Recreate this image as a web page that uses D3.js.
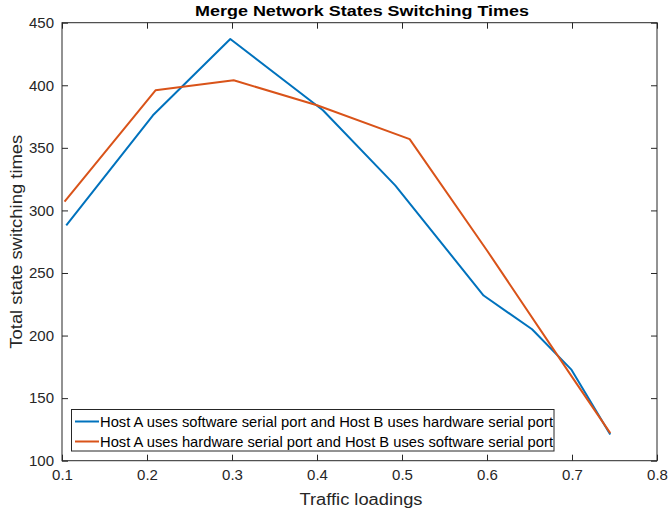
<!DOCTYPE html>
<html><head><meta charset="utf-8">
<script src="https://cdn.jsdelivr.net/npm/d3@7"></script>
<style>body{margin:0;background:#fff;} svg{display:block;font-family:"Liberation Sans",Arial,sans-serif;}</style>
</head><body>
<svg id="chart" width="670" height="514"></svg>
<script>
const xTicks = [0.1,0.2,0.3,0.4,0.5,0.6,0.7,0.8];
const yTicks = [100,150,200,250,300,350,400,450];
const blueX = [0.105,0.207,0.298,0.407,0.492,0.596,0.653,0.699,0.745];
const blueY = [288,376,437,380,320,232,205,173,121];
const orangeX = [0.103,0.21,0.302,0.4,0.509,0.6,0.7,0.745];
const orangeY = [307,396,404,384,357,268,167,122];
const seriesNames = ["Host A uses software serial port and Host B uses hardware serial port",
                     "Host A uses hardware serial port and Host B uses software serial port"];
const colors = ["#0072BD","#D95319"];

const L=62, R=657, T=22.7, B=460.7;
const svg = d3.select("#chart");
const x = d3.scaleLinear().domain([0.1,0.8]).range([L,R]);
const y = d3.scaleLinear().domain([100,450]).range([B,T]);
const axCol = "#262626";

svg.append("rect").attr("x",L).attr("y",T).attr("width",R-L).attr("height",B-T)
  .attr("fill","none").attr("stroke",axCol).attr("stroke-width",1);

const fmtX = d => d3.format(".1f")(d);
const gx = svg.append("g").attr("transform",`translate(0,${B})`)
  .call(d3.axisBottom(x).tickValues(xTicks).tickFormat(fmtX).tickSizeInner(-6).tickSizeOuter(0).tickPadding(9));
const gxt = svg.append("g").attr("transform",`translate(0,${T})`)
  .call(d3.axisTop(x).tickValues(xTicks).tickFormat("").tickSizeInner(-6).tickSizeOuter(0));
const gy = svg.append("g").attr("transform",`translate(${L},0)`)
  .call(d3.axisLeft(y).tickValues(yTicks).tickSizeInner(-6).tickSizeOuter(0).tickPadding(8));
const gyr = svg.append("g").attr("transform",`translate(${R},0)`)
  .call(d3.axisRight(y).tickValues(yTicks).tickFormat("").tickSizeInner(-6).tickSizeOuter(0));
[gx,gxt,gy,gyr].forEach(g=>{
  g.select(".domain").remove();
  g.selectAll("line").attr("stroke",axCol);
  g.selectAll("text").attr("fill",axCol).style("font-size","15px").style("font-family","'Liberation Sans',Arial,sans-serif");
});

const line = d3.line().x(d=>x(d[0])).y(d=>y(d[1]));
const data = [d3.zip(blueX,blueY), d3.zip(orangeX,orangeY)];
data.forEach((d,i)=>{
  svg.append("path").datum(d).attr("d",line).attr("fill","none")
    .attr("stroke",colors[i]).attr("stroke-width",2).attr("stroke-linejoin","round");
});

svg.append("text").attr("x",362).attr("y",15.5).attr("text-anchor","middle")
  .style("font-size","15.5px").style("font-weight","bold").attr("fill","#000")
  .attr("textLength",334).attr("lengthAdjust","spacingAndGlyphs")
  .text("Merge Network States Switching Times");
svg.append("text").attr("x",361).attr("y",505).attr("text-anchor","middle")
  .style("font-size","16px").attr("fill",axCol)
  .attr("textLength",123).attr("lengthAdjust","spacingAndGlyphs").text("Traffic loadings");
svg.append("text").attr("transform",`translate(22,${(T+B)/2}) rotate(-90)`).attr("text-anchor","middle")
  .style("font-size","17px").attr("fill",axCol)
  .attr("textLength",214).attr("lengthAdjust","spacingAndGlyphs").text("Total state switching times");

const lg = svg.append("g");
lg.append("rect").attr("x",71.5).attr("y",409.5).attr("width",482.5).attr("height",41.5)
  .attr("fill","#fff").attr("stroke",axCol).attr("stroke-width",1);
seriesNames.forEach((n,i)=>{
  const yy = 421.5 + i*20;
  lg.append("line").attr("x1",75).attr("x2",99).attr("y1",yy).attr("y2",yy)
    .attr("stroke",colors[i]).attr("stroke-width",2);
  lg.append("text").attr("x",100).attr("y",yy+5.5).style("font-size","15px").attr("fill","#000")
    .attr("textLength",453).attr("lengthAdjust","spacingAndGlyphs").text(n);
});
</script>
</body></html>
